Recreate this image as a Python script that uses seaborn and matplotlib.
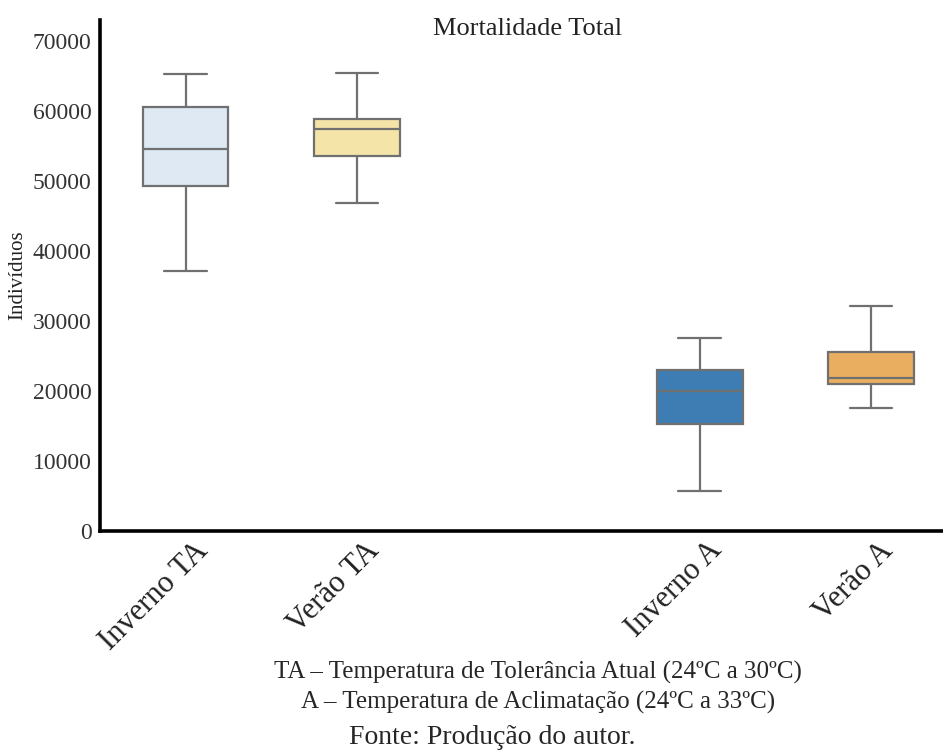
import matplotlib
matplotlib.use("Agg")
import matplotlib.pyplot as plt
import numpy as np
import pandas as pd
import seaborn as sns

groups = ["Inverno TA", "Verão TA", "Inverno A", "Verão A"]
positions = [0, 1, 3, 4]
colors = ["#dee9f4", "#f4e4a8", "#3e7db3", "#e9ae5f"]

# five-number summaries (low whisker, Q1, median, Q3, high whisker)
inverno_ta = [37100, 49300, 54500, 60500, 65300]
verao_ta = [46800, 53500, 57400, 58900, 65400]
inverno_a = [5700, 15300, 20000, 23000, 27600]
verao_a = [17500, 21000, 21800, 25600, 32200]

rows = []
for pos, vals in zip(positions, [inverno_ta, verao_ta, inverno_a, verao_a]):
    for v in vals:
        rows.append({"pos": pos, "valor": v})
df = pd.DataFrame(rows)

sns.set_style("white")
plt.rcParams["font.family"] = ["Liberation Serif", "DejaVu Serif"]

fig = plt.figure(figsize=(9.43, 7.54), dpi=100)
ax = fig.add_axes([0.106, 0.2958, 0.894, 0.6777])

sns.boxplot(data=df, x="pos", y="valor", hue="pos", native_scale=True,
            palette=dict(zip(positions, colors)), legend=False, width=0.5,
            saturation=1, whis=(0, 100), linecolor="#707070", linewidth=1.6, ax=ax)

ax.set_xlim(-0.5, 4.42)
ax.set_ylim(0, 73000)
ax.set_yticks(np.arange(0, 70001, 10000))
ax.set_yticklabels([str(t) for t in range(0, 70001, 10000)], fontsize=17, color="#333333")
ax.set_xticks(positions)
ax.set_xticklabels([])
ax.tick_params(axis="both", length=0, pad=6)
ax.set_xlabel("")
ax.set_ylabel("Indivíduos", fontsize=15, color="#222222", labelpad=4)

# rotated category labels, nudged right/down like the original
for pos, name in zip(positions, groups):
    ax.annotate(name, xy=(pos, 0), xycoords=("data", "axes fraction"),
                xytext=(13, -11), textcoords="offset points",
                rotation=45, ha="right", va="center", rotation_mode="anchor",
                fontsize=22, color="#222222")

for side in ["top", "right"]:
    ax.spines[side].set_visible(False)
for side in ["left", "bottom"]:
    ax.spines[side].set_color("black")
    ax.spines[side].set_linewidth(2.6)

ax.text(0.507, 0.982, "Mortalidade Total", transform=ax.transAxes,
        ha="center", va="center", fontsize=19, color="#222222")

fig.text(0.5705, 0.108, "TA – Temperatura de Tolerância Atual (24ºC a 30ºC)",
         ha="center", va="center", fontsize=18)
fig.text(0.5705, 0.068, "A – Temperatura de Aclimatação (24ºC a 33ºC)",
         ha="center", va="center", fontsize=18)
fig.text(0.5215, 0.022, "Fonte: Produção do autor.",
         ha="center", va="center", fontsize=20)

fig.savefig("out.png", dpi=100)
